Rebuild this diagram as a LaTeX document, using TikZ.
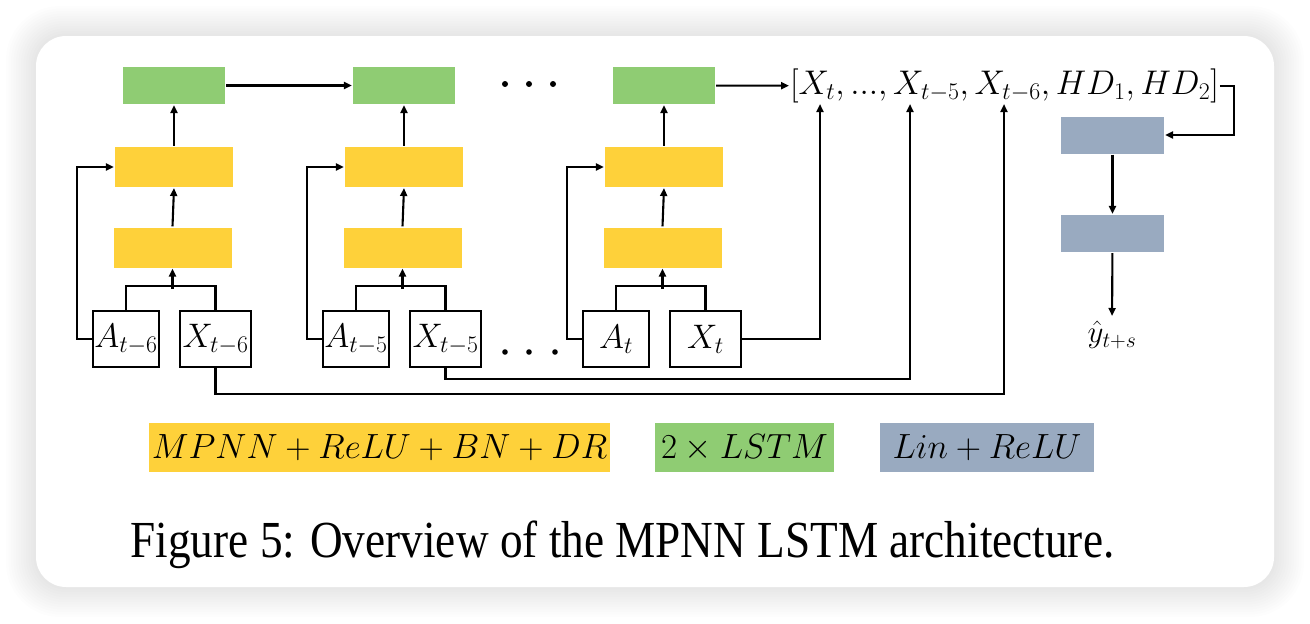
\documentclass[tikz,border=0pt]{standalone}
\usepackage{fix-cm}
\usepackage{fontspec}
\usepackage{tikz}
\usetikzlibrary{positioning,arrows.meta}

\newfontfamily\capfont{Liberation Serif}
\definecolor{mpnnyellow}{RGB}{254,209,58}
\definecolor{lstmgreen}{RGB}{143,204,115}
\definecolor{lingray}{RGB}{153,170,192}
\newcommand{\bigmath}{\fontsize{34}{40}\selectfont}

\begin{document}
\begin{tikzpicture}[x=1pt, y=-1pt, ->, >={Triangle[length=8pt,width=7pt]}, line width=2.1pt,
		mpnn/.style={fill=mpnnyellow, minimum width=118pt, minimum height=40pt, inner sep=0pt},
		lstm/.style={fill=lstmgreen, minimum width=102pt, minimum height=37pt, inner sep=0pt},
		lin/.style={fill=lingray, minimum width=103pt, minimum height=37pt, inner sep=0pt},
		inbox/.style={draw, line width=1.6pt, minimum height=56pt, inner sep=0pt, font=\bigmath},
		legbox/.style={minimum height=49pt, font=\fontsize{35}{40}\selectfont}]
		\useasboundingbox (0,0) rectangle (1310,624);

		% card with soft shadow
		\fill[white] (0,0) rectangle (1310,624);
		\foreach \k in {1,...,12} {
			\pgfmathsetmacro\rr{30+2*\k}
			\fill[black, opacity=0.009, rounded corners=\rr pt] (36-2.5*\k, 36-2.5*\k) rectangle (1274+2.5*\k, 587+2.5*\k);
		}
		\fill[white, rounded corners=30pt] (36,36) rectangle (1274,587);

		% one column per time step
		\foreach \i/\dx/\s in {1/0/t-6, 2/230/t-5, 3/490/t} {
			\node[inbox, minimum width=66pt] (a\i) at (126+\dx, 339) {$A_{\s}$};
			\node[inbox, minimum width=71pt] (x\i) at (215.5+\dx, 339) {$X_{\s}$};
			\node[mpnn] (mpnna\i) at (172.5+\dx, 247.5) {};
			\node[mpnn] (mpnnb\i) at (174+\dx, 167) {};
			\node[lstm] (lstm\i) at (174+\dx, 85.5) {};

			\draw[-] (a\i.north) -- ++(0,-24) -| (x\i.north);
			\draw ([yshift=-20pt]mpnna\i.south) -- (mpnna\i.south);
			\draw (mpnna\i.north) -- (mpnnb\i.south);
			\draw (mpnnb\i.north) -- (lstm\i.south);
			\draw (a\i.west) -- ++(-15,0) |- (mpnnb\i.west);
		}

		\foreach \x in {505,529,553} \fill (\x,84) circle (3pt);
		\foreach \x in {505,529,555} \fill (\x,352) circle (2.8pt);

		\node[font=\fontsize{34.2}{40}\selectfont, inner sep=0pt, anchor=west] (xlist) at (789,86)
			{$[X_t, ..., X_{t-5}, X_{t-6}, HD_1, HD_2]$};
		\coordinate (in0) at (820,104);
		\coordinate (in5) at (910,104);
		\coordinate (in6) at (1004,104);

		\node[lin] (lin1) at (1112.5,135) {};
		\node[lin] (lin2) at (1112.5,233.5) {};
		\node[font=\fontsize{31}{36}\selectfont, inner sep=4pt, anchor=north] (yhat) at (1112,316) {$\hat{y}_{t+s}$};

		\path (lstm1) edge (lstm2);
		\path (lstm3) edge (xlist);
		\draw (x3.east) -| (in0);
		\draw (x2.south) -- ++(0,11) -| (in5);
		\draw (x1.south) -- ++(0,26) -| (in6);
		\draw (xlist.east) -- ++(14,0) |- (lin1.east);
		\path (lin1) edge (lin2);
		\path (lin2) edge (yhat);

		% legend
		\node[legbox, fill=mpnnyellow, minimum width=457pt] (legmpnn) at (379.5,447.5) {$MPNN + ReLU + BN + DR$};
		\node[legbox, fill=lstmgreen, minimum width=179pt] (leglstm) at (744.5,447.5) {$2 \times LSTM$};
		\node[legbox, fill=lingray, minimum width=214pt] (leglin) at (987,447.5) {$Lin + ReLU$};

		\node[font=\capfont\fontsize{52}{60}\selectfont, anchor=base] (caption) at (622.5,557)
			{\scalebox{0.87}[1]{Figure 5: Overview of the MPNN LSTM architecture.}};
	\end{tikzpicture}
\end{document}
